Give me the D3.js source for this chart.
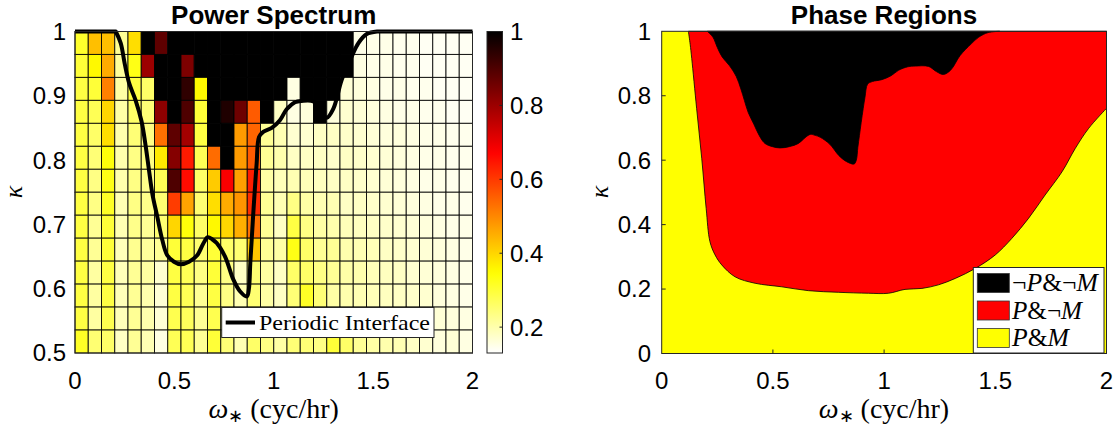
<!DOCTYPE html>
<html>
<head>
<meta charset="utf-8">
<script src="https://cdn.jsdelivr.net/npm/d3@7"></script>
<style>
  body { margin: 0; background: #fff; }
  svg text { fill: #000; }
</style>
</head>
<body>
<svg id="chart" width="1115" height="427"></svg>
<script>
// ---------- data ----------
// Power spectrum grid: 14 kappa rows (listed from kappa = 1 down to 0.5) x 30 omega columns (0 -> 2)
const power = [
  [0.31,0.43,0.43,0.22,0.39,1.00,0.88,1.00,1.00,1.00,1.00,1.00,1.00,1.00,1.00,1.00,1.00,1.00,1.00,1.00,1.00,0.150,0.150,0.150,0.145,0.145,0.140,0.140,0.140,0.140],
  [0.30,0.355,0.455,0.215,0.33,0.80,1.00,1.00,0.84,1.00,1.00,1.00,1.00,1.00,1.00,1.00,1.00,1.00,1.00,1.00,1.00,0.155,0.150,0.150,0.145,0.145,0.140,0.140,0.140,0.140],
  [0.29,0.30,0.51,0.207,0.29,0.26,1.00,1.00,0.94,0.355,1.00,1.00,1.00,1.00,1.00,1.00,0.155,1.00,1.00,1.00,0.165,0.160,0.155,0.150,0.150,0.145,0.145,0.140,0.140,0.140],
  [0.29,0.275,0.40,0.207,0.26,0.247,0.82,1.00,0.90,0.30,1.00,0.96,0.86,0.557,1.00,0.18,0.155,0.16,1.00,0.16,0.170,0.165,0.160,0.155,0.150,0.150,0.145,0.145,0.140,0.140],
  [0.29,0.26,0.39,0.20,0.247,0.235,0.53,0.88,0.79,0.29,1.00,1.00,0.475,0.545,0.22,0.195,0.17,0.17,0.18,0.18,0.175,0.170,0.165,0.160,0.160,0.155,0.150,0.150,0.145,0.145],
  [0.29,0.247,0.34,0.20,0.235,0.235,0.375,0.83,0.64,0.275,0.536,1.00,0.475,0.557,0.22,0.20,0.18,0.18,0.18,0.175,0.180,0.175,0.170,0.165,0.160,0.155,0.150,0.150,0.145,0.145],
  [0.29,0.235,0.33,0.20,0.235,0.23,0.275,0.90,0.66,0.26,0.414,0.68,0.47,0.637,0.207,0.19,0.195,0.19,0.185,0.18,0.180,0.175,0.170,0.165,0.160,0.155,0.150,0.150,0.145,0.145],
  [0.29,0.235,0.315,0.195,0.235,0.23,0.25,0.597,0.465,0.25,0.39,0.455,0.485,0.617,0.22,0.195,0.235,0.207,0.195,0.195,0.180,0.180,0.175,0.170,0.165,0.160,0.155,0.150,0.150,0.145],
  [0.29,0.22,0.30,0.195,0.23,0.22,0.25,0.40,0.34,0.26,0.355,0.40,0.45,0.53,0.22,0.18,0.29,0.235,0.207,0.20,0.190,0.185,0.180,0.175,0.170,0.165,0.160,0.155,0.150,0.150],
  [0.29,0.22,0.30,0.19,0.225,0.215,0.22,0.30,0.29,0.25,0.30,0.26,0.25,0.42,0.22,0.207,0.33,0.26,0.22,0.22,0.200,0.195,0.190,0.180,0.175,0.170,0.165,0.160,0.155,0.150],
  [0.29,0.21,0.29,0.19,0.22,0.21,0.17,0.29,0.275,0.235,0.30,0.235,0.18,0.25,0.21,0.18,0.26,0.26,0.235,0.22,0.205,0.200,0.190,0.185,0.180,0.170,0.165,0.160,0.155,0.150],
  [0.29,0.21,0.29,0.19,0.22,0.20,0.165,0.29,0.275,0.22,0.29,0.235,0.195,0.25,0.207,0.18,0.247,0.315,0.247,0.207,0.200,0.195,0.190,0.185,0.180,0.175,0.170,0.160,0.155,0.150],
  [0.29,0.21,0.28,0.19,0.22,0.20,0.165,0.28,0.27,0.22,0.28,0.24,0.20,0.26,0.22,0.19,0.25,0.27,0.24,0.25,0.220,0.210,0.200,0.190,0.185,0.180,0.170,0.165,0.160,0.155],
  [0.315,0.25,0.26,0.18,0.22,0.195,0.155,0.275,0.275,0.22,0.30,0.247,0.195,0.26,0.235,0.207,0.247,0.247,0.235,0.30,0.260,0.220,0.207,0.200,0.195,0.180,0.170,0.160,0.165,0.155]
];

// Periodic interface (also the boundary of the "not P & not M" region)
const interfaceOmega = [0.205,0.23,0.25,0.272,0.305,0.335,0.356,0.372,0.389,0.414,0.439,0.464,0.498,0.532,0.574,0.615,0.645,0.668,0.69,0.713,0.755,0.797,0.83,0.865,0.875,0.882,0.889,0.897,0.906,0.914,0.926,0.947,0.99,1.031,1.065,1.107,1.14,1.2,1.235,1.267,1.3,1.342,1.392,1.426,1.468,1.52];
const interfaceKappa = [1.0,0.982,0.95,0.92,0.893,0.86,0.821,0.785,0.748,0.712,0.676,0.652,0.642,0.638,0.642,0.652,0.67,0.68,0.677,0.671,0.65,0.614,0.596,0.588,0.6,0.64,0.676,0.717,0.76,0.795,0.836,0.844,0.85,0.862,0.879,0.89,0.892,0.891,0.875,0.866,0.88,0.925,0.961,0.982,0.996,1.0];

// Boundary between "P & M" (below) and "P & not M" (above)
const mBoundaryOmega = [0.12,0.128,0.135,0.157,0.18,0.2,0.217,0.24,0.27,0.33,0.42,0.54,0.66,0.794,0.93,1.02,1.094,1.17,1.244,1.32,1.41,1.5,1.574,1.65,1.724,1.8,1.86,1.92,2.0];
const mBoundaryKappa = [1.0,0.96,0.916,0.761,0.606,0.45,0.347,0.306,0.275,0.238,0.218,0.207,0.195,0.19,0.187,0.187,0.199,0.202,0.213,0.233,0.264,0.306,0.357,0.42,0.492,0.564,0.637,0.699,0.761];

const omegaTicks = [0, 0.5, 1, 1.5, 2];
const kappaTicksSpectrum = [0.5, 0.6, 0.7, 0.8, 0.9, 1];
const kappaTicksPhase = [0, 0.2, 0.4, 0.6, 0.8, 1];
const colorTicks = [0.2, 0.4, 0.6, 0.8, 1];
const colorLimits = [0.13, 1];
const phaseLabels = ["\u00acP&\u00acM", "P&\u00acM", "P&M"];
const phaseColors = ["#000000", "#ff0000", "#ffff00"];

// ---------- helpers ----------
const svg = d3.select("#chart");
const sans = "'Liberation Sans', Arial, Helvetica, sans-serif";
const serif = "'Liberation Serif', 'Times New Roman', serif";

// reversed "hot" colormap: low values white, through yellow and red, to black
function hotReversed(v) {
  const t = Math.max(0, Math.min(1, (v - colorLimits[0]) / (colorLimits[1] - colorLimits[0])));
  const s = 1 - t;
  const r = Math.min(1, s / 0.375);
  const g = Math.max(0, Math.min(1, (s - 0.375) / 0.375));
  const b = Math.max(0, Math.min(1, (s - 0.75) / 0.25));
  return d3.rgb(r * 255, g * 255, b * 255).formatHex();
}
const smooth = d3.curveCatmullRom.alpha(0.5);

// ---------- left panel: power spectrum ----------
const L = { x0: 75, x1: 472.5, y0: 31.5, y1: 353 };
const xL = d3.scaleLinear().domain([0, 2]).range([L.x0, L.x1]);
const yL = d3.scaleLinear().domain([0.5, 1]).range([L.y1, L.y0]);

const nRows = power.length, nCols = power[0].length;
const omegaEdges = d3.range(nCols + 1).map(i => 2 * i / nCols);
const kappaEdges = d3.range(nRows + 1).map(j => 1 - 0.5 * j / nRows);

const cells = [];
power.forEach((row, j) => row.forEach((v, i) => cells.push({ i, j, v })));

const left = svg.append("g");
left.selectAll("rect.cell").data(cells).join("rect")
  .attr("class", "cell")
  .attr("x", d => xL(omegaEdges[d.i]))
  .attr("y", d => yL(kappaEdges[d.j]))
  .attr("width", d => xL(omegaEdges[d.i + 1]) - xL(omegaEdges[d.i]))
  .attr("height", d => yL(kappaEdges[d.j + 1]) - yL(kappaEdges[d.j]))
  .attr("fill", d => hotReversed(d.v))
  .attr("stroke", "#000")
  .attr("stroke-opacity", 0.85)
  .attr("stroke-width", 1);

// interface curve, running flat along kappa = 1 on either side
const interfacePts = interfaceOmega.map((w, k) => [w, interfaceKappa[k]]);
const leftCurve = d3.line().x(d => xL(d[0])).y(d => yL(d[1])).curve(smooth)(interfacePts);
left.append("path")
  .attr("d", `M${xL(0)},${yL(1)}L` + leftCurve.slice(1) + `L${xL(2)},${yL(1)}`)
  .attr("fill", "none").attr("stroke", "#000").attr("stroke-width", 4)
  .attr("stroke-linejoin", "round");

left.append("rect")
  .attr("x", L.x0).attr("y", L.y0).attr("width", L.x1 - L.x0).attr("height", L.y1 - L.y0)
  .attr("fill", "none").attr("stroke", "#262626").attr("stroke-width", 1);

// axes
const axL = left.append("g").attr("font-family", sans).attr("font-size", 24);
axL.selectAll("text.xt").data(omegaTicks).join("text")
  .attr("x", d => xL(d)).attr("y", 388.5).attr("text-anchor", "middle").text(d => d);
axL.selectAll("text.yt").data(kappaTicksSpectrum).join("text")
  .attr("x", 66).attr("y", d => yL(d)).attr("dy", "0.35em").attr("text-anchor", "end").text(d => d);

left.append("text").attr("x", 273.7).attr("y", 24).attr("text-anchor", "middle")
  .attr("font-family", sans).attr("font-weight", "bold").attr("font-size", 26).text("Power Spectrum");

function omegaLabel(g, cx) {
  const t = g.append("text").attr("x", cx).attr("y", 418).attr("text-anchor", "middle")
    .attr("font-family", serif).attr("font-size", 28);
  t.append("tspan").attr("font-style", "italic").text("\u03c9");
  t.append("tspan").attr("font-size", 18).attr("dy", 4).text("\u2217");
  t.append("tspan").attr("dy", -4).text(" (cyc/hr)");
}
function kappaLabel(g, cx) {
  g.append("text").attr("transform", `translate(${cx},192) rotate(-90)`)
    .attr("text-anchor", "middle").attr("font-family", serif).attr("font-style", "italic")
    .attr("font-size", 26).text("\u03ba");
}
omegaLabel(left, 273.7);
kappaLabel(left, 22);

// legend
const lg = left.append("g");
lg.append("rect").attr("x", 221.7).attr("y", 307.5).attr("width", 212.3).attr("height", 30)
  .attr("fill", "#fff").attr("stroke", "#262626").attr("stroke-width", 1);
lg.append("line").attr("x1", 225.7).attr("x2", 255).attr("y1", 322.5).attr("y2", 322.5)
  .attr("stroke", "#000").attr("stroke-width", 4);
lg.append("text").attr("x", 259).attr("y", 330).attr("font-family", serif).attr("font-size", 22)
  .attr("textLength", 171).attr("lengthAdjust", "spacingAndGlyphs").text("Periodic Interface");

// colorbar
const CB = { x0: 487, x1: 502.5 };
const yC = d3.scaleLinear().domain(colorLimits).range([L.y1, L.y0]);
const defs = svg.append("defs");
const grad = defs.append("linearGradient").attr("id", "hotGrad")
  .attr("x1", 0).attr("x2", 0).attr("y1", 1).attr("y2", 0);
d3.range(0, 1.0001, 0.02).forEach(f => {
  grad.append("stop").attr("offset", f)
    .attr("stop-color", hotReversed(colorLimits[0] + f * (colorLimits[1] - colorLimits[0])));
});
svg.append("rect").attr("x", CB.x0).attr("y", L.y0).attr("width", CB.x1 - CB.x0).attr("height", L.y1 - L.y0)
  .attr("fill", "url(#hotGrad)").attr("stroke", "#262626").attr("stroke-width", 1);
svg.selectAll("line.cbt").data(colorTicks).join("line")
  .attr("x1", CB.x1 - 3).attr("x2", CB.x1).attr("y1", d => yC(d)).attr("y2", d => yC(d))
  .attr("stroke", "#262626");
svg.selectAll("text.cbl").data(colorTicks).join("text")
  .attr("x", 510).attr("y", d => yC(d)).attr("dy", "0.35em")
  .attr("font-family", sans).attr("font-size", 24).text(d => d);

// ---------- right panel: phase regions ----------
const R = { x0: 661.7, x1: 1106.5, y0: 31.3, y1: 353.5 };
const xR = d3.scaleLinear().domain([0, 2]).range([R.x0, R.x1]);
const yR = d3.scaleLinear().domain([0, 1]).range([R.y1, R.y0]);
const right = svg.append("g");

right.append("rect").attr("x", R.x0).attr("y", R.y0).attr("width", R.x1 - R.x0).attr("height", R.y1 - R.y0)
  .attr("fill", phaseColors[2]);

// P & not M : region above the M boundary
const mPts = mBoundaryOmega.map((w, k) => [w, mBoundaryKappa[k]]);
const mPath = d3.line().x(d => xR(d[0])).y(d => yR(d[1])).curve(smooth)(mPts);
right.append("path")
  .attr("d", mPath + `L${xR(2)},${yR(1)}L${xR(mBoundaryOmega[0])},${yR(1)}Z`)
  .attr("fill", phaseColors[1]).attr("stroke", "#000").attr("stroke-width", 0.8);

// not P & not M : region above the periodic interface
const pPath = d3.line().x(d => xR(d[0])).y(d => yR(d[1])).curve(smooth)(interfacePts);
right.append("path").attr("d", pPath + "Z")
  .attr("fill", phaseColors[0]).attr("stroke", "#000").attr("stroke-width", 0.8);

right.append("rect").attr("x", R.x0).attr("y", R.y0).attr("width", R.x1 - R.x0).attr("height", R.y1 - R.y0)
  .attr("fill", "none").attr("stroke", "#262626").attr("stroke-width", 1);
right.selectAll("line.xtick").data(omegaTicks.slice(1, -1)).join("line")
  .attr("x1", d => xR(d)).attr("x2", d => xR(d)).attr("y1", R.y1).attr("y2", R.y1 - 4)
  .attr("stroke", "#262626");
right.selectAll("line.ytick").data(kappaTicksPhase.slice(1, -1)).join("line")
  .attr("x1", R.x0).attr("x2", R.x0 + 4).attr("y1", d => yR(d)).attr("y2", d => yR(d))
  .attr("stroke", "#262626");

const axR = right.append("g").attr("font-family", sans).attr("font-size", 24);
axR.selectAll("text.xt").data(omegaTicks).join("text")
  .attr("x", d => xR(d)).attr("y", 388.5).attr("text-anchor", "middle").text(d => d);
axR.selectAll("text.yt").data(kappaTicksPhase).join("text")
  .attr("x", 651).attr("y", d => yR(d)).attr("dy", "0.35em").attr("text-anchor", "end").text(d => d);

right.append("text").attr("x", 884).attr("y", 24).attr("text-anchor", "middle")
  .attr("font-family", sans).attr("font-weight", "bold").attr("font-size", 26).text("Phase Regions");
omegaLabel(right, 884);
kappaLabel(right, 608);

// phase legend
const pl = right.append("g");
pl.append("rect").attr("x", 973.3).attr("y", 267.5).attr("width", 130.7).attr("height", 85.5)
  .attr("fill", "#fff").attr("stroke", "#262626").attr("stroke-width", 1);
const rowY = [283, 310.5, 338];
const labelWidths = [86, 70, 57];
phaseLabels.forEach((lab, k) => {
  pl.append("rect").attr("x", 977.3).attr("y", rowY[k] - 9.5).attr("width", 32).attr("height", 19)
    .attr("fill", phaseColors[k]).attr("stroke", "#333").attr("stroke-width", 0.8);
  const t = pl.append("text").attr("x", 1012).attr("y", rowY[k] + 8)
    .attr("font-family", serif).attr("font-size", 25)
    .attr("textLength", labelWidths[k]).attr("lengthAdjust", "spacingAndGlyphs");
  // italic letters for P and M, upright symbols
  lab.split("").forEach(ch => {
    t.append("tspan").attr("font-style", (ch === "P" || ch === "M") ? "italic" : "normal").text(ch);
  });
});
</script>
</body>
</html>
